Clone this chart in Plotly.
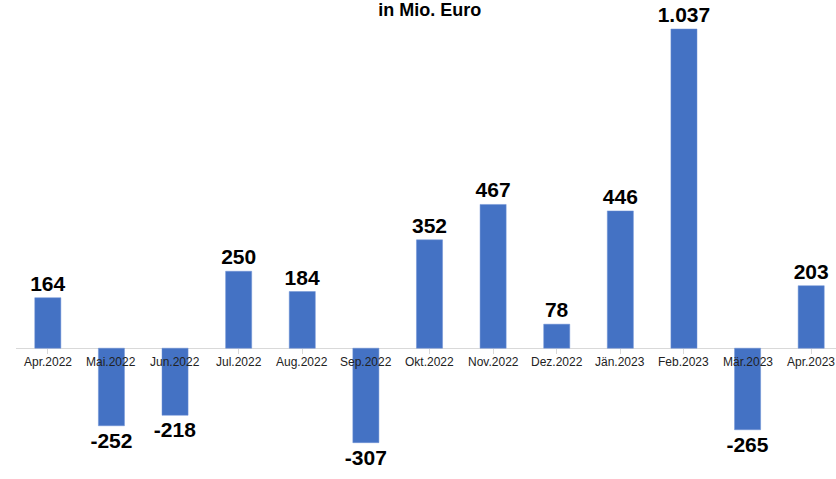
import plotly.graph_objects as go

categories = ["Apr.2022", "Mai.2022", "Jun.2022", "Jul.2022", "Aug.2022", "Sep.2022",
              "Okt.2022", "Nov.2022", "Dez.2022", "Jän.2023", "Feb.2023", "Mär.2023", "Apr.2023"]
values = [164, -252, -218, 250, 184, -307, 352, 467, 78, 446, 1037, -265, 203]
title_text = "in Mio. Euro"

def de_fmt(v):
    return f"{v:,}".replace(",", ".")

labels = ["<b>" + de_fmt(v) + "</b>" for v in values]

ymin, ymax = -425, 1050
xs = list(range(len(categories)))

fig = go.Figure()
fig.add_trace(go.Bar(
    x=xs, y=values, width=0.41,
    marker=dict(color="#4472C4", line=dict(color="#6f93d6", width=0.5)),
    text=labels, textposition="outside", cliponaxis=False, constraintext="none",
    textfont=dict(family="Liberation Sans, Arial", size=21, color="#000000"),
    hoverinfo="skip",
))

for i, c in enumerate(categories):
    fig.add_annotation(x=i, y=0, text=c, showarrow=False, yanchor="top", yshift=-5,
                       font=dict(family="Liberation Sans, Arial", size=12, color="#222222"))

fig.update_layout(
    width=836, height=479,
    margin=dict(l=16, r=0, t=25, b=0),
    paper_bgcolor="white", plot_bgcolor="white",
    showlegend=False,
    title=dict(text="<b>" + title_text + "</b>", x=0.514, xanchor="center", y=0.992, yanchor="top",
               font=dict(family="Liberation Sans, Arial", size=18, color="#000000")),
    xaxis=dict(range=[-0.5, 12.39], showgrid=False, zeroline=False, showticklabels=False,
               tickmode="array", tickvals=xs, ticks="outside", tickson="boundaries",
               ticklen=5, tickcolor="#d9d9d9", showline=True, linecolor="#d9d9d9", linewidth=1,
               anchor="free", position=(0 - ymin) / (ymax - ymin), layer="below traces"),
    yaxis=dict(range=[ymin, ymax], visible=False, showgrid=False, zeroline=False),
    bargap=0.5,
)

fig.write_html("out.html")
